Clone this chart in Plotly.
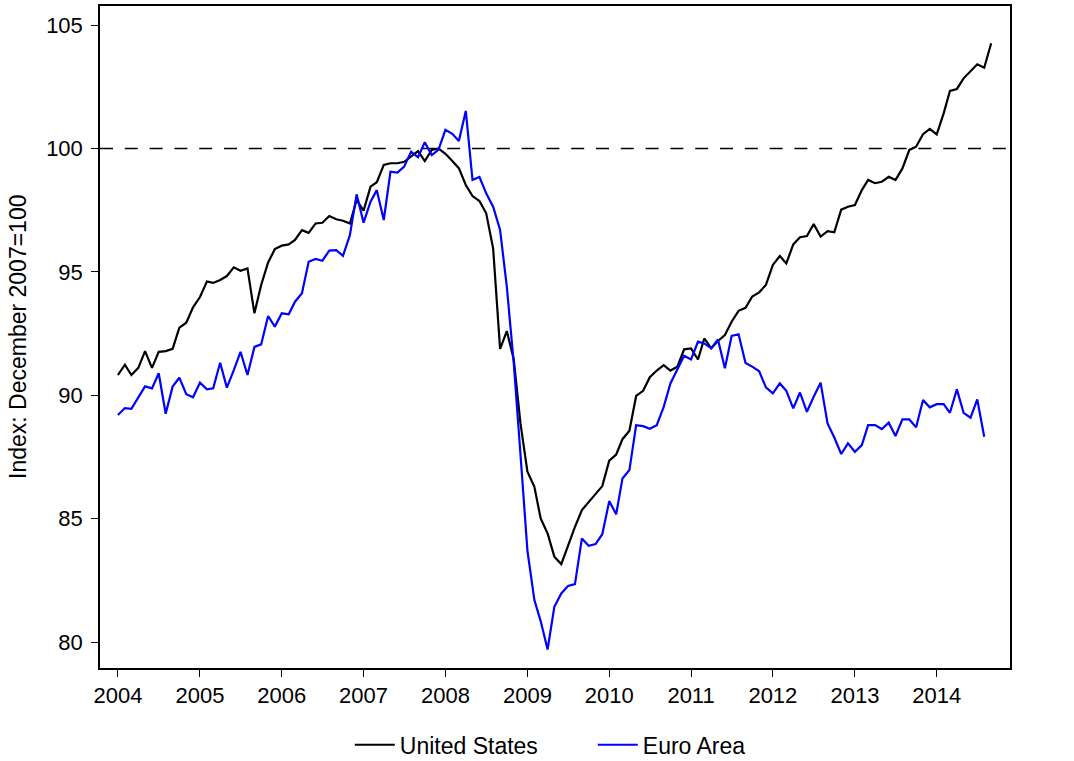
import pandas as pd
import plotly.graph_objects as go

# Monthly index values (December 2007 = 100), January 2004 onward
us_values = [
    90.82, 91.24, 90.82, 91.11, 91.79, 91.11, 91.76, 91.79, 91.88, 92.74, 92.94, 93.56,  # 2004
    93.98, 94.61, 94.55, 94.67, 94.83, 95.18, 95.04, 95.14, 93.32, 94.47, 95.38, 95.92,  # 2005
    96.06, 96.11, 96.29, 96.69, 96.58, 96.96, 96.99, 97.26, 97.13, 97.07, 96.96, 97.91,  # 2006
    97.48, 98.45, 98.63, 99.33, 99.40, 99.40, 99.46, 99.66, 99.89, 99.49, 99.94, 100.00,  # 2007
    99.78, 99.49, 99.20, 98.52, 98.07, 97.87, 97.37, 95.95, 91.88, 92.60, 91.45, 88.86,  # 2008
    86.90, 86.29, 85.01, 84.40, 83.46, 83.16, 83.93, 84.67, 85.35, 85.68, 86.00, 86.32,  # 2009
    87.35, 87.60, 88.22, 88.56, 89.97, 90.18, 90.73, 91.00, 91.22, 91.00, 91.16, 91.86,  # 2010
    91.90, 91.45, 92.30, 91.90, 92.20, 92.44, 92.98, 93.42, 93.54, 94.00, 94.17, 94.47,  # 2011
    95.28, 95.64, 95.34, 96.11, 96.40, 96.45, 96.94, 96.43, 96.65, 96.60, 97.52, 97.64,  # 2012
    97.71, 98.31, 98.72, 98.59, 98.65, 98.85, 98.72, 99.19, 99.94, 100.07, 100.58, 100.79,  # 2013
    100.57, 101.42, 102.33, 102.41, 102.84, 103.11, 103.41, 103.27, 104.26,  # 2014 (Jan-Sep)
]

ea_values = [
    89.20, 89.48, 89.45, 89.93, 90.36, 90.28, 90.89, 89.25, 90.35, 90.71, 90.04, 89.92,  # 2004
    90.51, 90.24, 90.28, 91.32, 90.31, 91.02, 91.76, 90.82, 91.96, 92.06, 93.21, 92.78,  # 2005
    93.32, 93.28, 93.79, 94.13, 95.41, 95.52, 95.45, 95.86, 95.88, 95.65, 96.49, 98.14,  # 2006
    96.99, 97.84, 98.31, 97.10, 99.06, 99.02, 99.26, 99.87, 99.64, 100.25, 99.73, 99.94,  # 2007
    100.75, 100.59, 100.30, 101.52, 98.72, 98.84, 98.18, 97.64, 96.70, 94.40, 91.30, 87.60,  # 2008
    83.70, 81.70, 80.85, 79.70, 81.43, 81.97, 82.27, 82.35, 84.20, 83.90, 83.97, 84.37,  # 2009
    85.71, 85.18, 86.63, 86.97, 88.79, 88.75, 88.64, 88.79, 89.53, 90.48, 91.02, 91.60,  # 2010
    91.45, 92.17, 92.10, 91.90, 92.26, 91.09, 92.40, 92.47, 91.31, 91.16, 90.97, 90.32,  # 2011
    90.08, 90.48, 90.18, 89.47, 90.11, 89.33, 89.94, 90.51, 88.86, 88.29, 87.62, 88.05,  # 2012
    87.71, 87.98, 88.79, 88.79, 88.63, 88.89, 88.35, 89.02, 89.02, 88.70, 89.81, 89.51,  # 2013
    89.64, 89.64, 89.29, 90.24, 89.29, 89.09, 89.83, 88.32,  # 2014 (Jan-Aug)
]

series_names = ["United States", "Euro Area"]
series_colors = ["#000000", "#0000ff"]
year_ticks = list(range(2004, 2015))
y_ticks = [80, 85, 90, 95, 100, 105]
reference_level = 100
y_title = "Index: December 2007=100"

us_dates = pd.date_range("2004-01-01", periods=len(us_values), freq="MS")
ea_dates = pd.date_range("2004-01-01", periods=len(ea_values), freq="MS")

FONT = "Liberation Sans, Arial, Helvetica, sans-serif"
Y_RANGE = [78.95, 105.77]
X_RANGE = ["2003-10-13", "2014-11-24"]
TICK_SIZE = 22
TEXT_SIZE = 23

fig = go.Figure()
fig.add_trace(go.Scatter(x=us_dates, y=us_values, mode="lines", name=series_names[0],
                         line=dict(color=series_colors[0], width=2.2)))
fig.add_trace(go.Scatter(x=ea_dates, y=ea_values, mode="lines", name=series_names[1],
                         line=dict(color=series_colors[1], width=2.2)))

fig.add_shape(type="line", xref="paper", yref="y", x0=0, x1=1,
              y0=reference_level, y1=reference_level,
              line=dict(color="black", width=1.5, dash="13px,11.8px"), layer="below")

axis_common = dict(showgrid=False, zeroline=False, ticks="outside", ticklen=7,
                   tickwidth=1, tickcolor="black", automargin=False,
                   tickfont=dict(family=FONT, size=TICK_SIZE, color="black"))

# Y-axis title placed as rotated text left of the tick labels
fig.add_annotation(text=y_title, xref="paper", yref="paper", x=-0.0901, y=0.5,
                   xanchor="center", yanchor="middle", textangle=-90, showarrow=False,
                   font=dict(family=FONT, size=TEXT_SIZE, color="black"))

fig.update_layout(
    width=1074, height=761,
    margin=dict(l=100, r=64, t=6, b=93, autoexpand=False),
    paper_bgcolor="white", plot_bgcolor="white",
    font=dict(family=FONT, color="black", size=TICK_SIZE),
    xaxis=dict(type="date", range=X_RANGE,
               tickvals=[f"{y}-01-01" for y in year_ticks],
               ticktext=[str(y) for y in year_ticks],
               showline=True, linecolor="black", linewidth=1.5, mirror=True,
               **axis_common),
    yaxis=dict(range=Y_RANGE, tickvals=y_ticks, ticktext=[str(v) for v in y_ticks],
               showline=True, linecolor="black", linewidth=1.5, mirror=True,
               ticklabelstandoff=4, **axis_common),
    yaxis2=dict(range=Y_RANGE, tickvals=y_ticks, ticktext=[str(v) for v in y_ticks],
                overlaying="y", side="right", anchor="x", showline=False,
                ticklabelstandoff=4, **axis_common),
    legend=dict(orientation="h", x=0.2745, xanchor="left", y=-0.116, yanchor="middle",
                font=dict(family=FONT, size=TEXT_SIZE, color="black"),
                itemwidth=40, entrywidth=188, entrywidthmode="pixels",
                bgcolor="rgba(0,0,0,0)"),
    showlegend=True,
)

fig.write_html(
    "out.html",
    config={"displayModeBar": False},
    post_script="document.body.style.margin='0px';document.body.style.overflow='hidden';",
)
